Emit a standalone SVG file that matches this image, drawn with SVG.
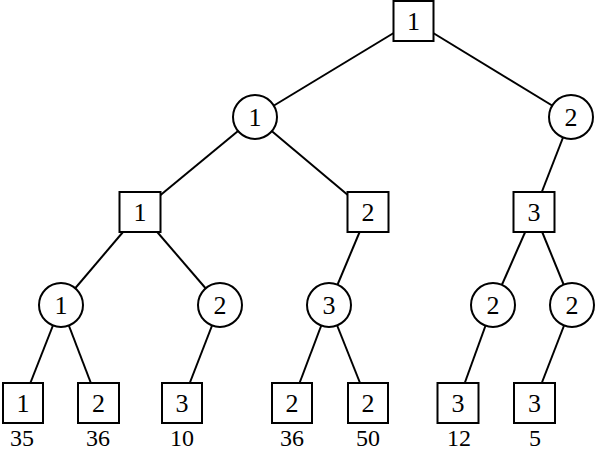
<svg xmlns="http://www.w3.org/2000/svg" width="596" height="452" viewBox="0 0 596 452">
<style>
.e line{stroke:#000;stroke-width:2}
.n rect,.n circle{fill:#fff;stroke:#000;stroke-width:2}
text{font-family:"Liberation Serif","Times New Roman",serif;font-size:26px;text-anchor:middle;fill:#000}
.v{font-size:24px}
</style>
<rect width="596" height="452" fill="#fff"/>
<g class="e" id="connectors">
<line x1="413.5" y1="21" x2="255" y2="117"/>
<line x1="413.5" y1="21" x2="571" y2="117"/>
<line x1="255" y1="117" x2="140" y2="212"/>
<line x1="255" y1="117" x2="368" y2="212"/>
<line x1="571" y1="117" x2="534" y2="212"/>
<line x1="140" y1="212" x2="61" y2="305"/>
<line x1="140" y1="212" x2="220" y2="305"/>
<line x1="368" y1="212" x2="329" y2="305"/>
<line x1="534" y1="212" x2="493" y2="305"/>
<line x1="534" y1="212" x2="572" y2="305"/>
<line x1="61" y1="305" x2="22.5" y2="403"/>
<line x1="61" y1="305" x2="98.5" y2="403"/>
<line x1="220" y1="305" x2="182" y2="403"/>
<line x1="329" y1="305" x2="292" y2="403"/>
<line x1="329" y1="305" x2="368" y2="403"/>
<line x1="493" y1="305" x2="457.5" y2="403"/>
<line x1="572" y1="305" x2="534" y2="403"/>
</g>
<g class="n" id="n0"><rect x="393.5" y="1" width="40" height="40"/><text x="413.5" y="30">1</text></g>
<g class="n" id="n1"><circle cx="255" cy="117" r="22"/><text x="255" y="126">1</text></g>
<g class="n" id="n2"><circle cx="571" cy="117" r="22"/><text x="571" y="126">2</text></g>
<g class="n" id="n3"><rect x="119.5" y="192" width="41" height="40"/><text x="140" y="221">1</text></g>
<g class="n" id="n4"><rect x="347.5" y="192" width="41" height="40"/><text x="368" y="221">2</text></g>
<g class="n" id="n5"><rect x="513.5" y="192" width="41" height="40"/><text x="534" y="221">3</text></g>
<g class="n" id="n6"><circle cx="61" cy="305" r="22"/><text x="61" y="314">1</text></g>
<g class="n" id="n7"><circle cx="220" cy="305" r="22"/><text x="220" y="314">2</text></g>
<g class="n" id="n8"><circle cx="329" cy="305" r="22"/><text x="329" y="314">3</text></g>
<g class="n" id="n9"><circle cx="493" cy="305" r="22"/><text x="493" y="314">2</text></g>
<g class="n" id="n10"><circle cx="572" cy="305" r="22"/><text x="572" y="314">2</text></g>
<g class="n" id="n11"><rect x="3" y="383" width="40" height="40"/><text x="23" y="412">1</text></g>
<g class="n" id="n12"><rect x="78" y="383" width="41" height="40"/><text x="98.5" y="412">2</text></g>
<g class="n" id="n13"><rect x="162" y="383" width="40" height="40"/><text x="182" y="412">3</text></g>
<g class="n" id="n14"><rect x="272" y="383" width="40" height="40"/><text x="292" y="412">2</text></g>
<g class="n" id="n15"><rect x="348" y="383" width="40" height="40"/><text x="368" y="412">2</text></g>
<g class="n" id="n16"><rect x="437.5" y="383" width="41" height="40"/><text x="458" y="412">3</text></g>
<g class="n" id="n17"><rect x="514" y="383" width="41" height="40"/><text x="534.5" y="412">3</text></g>
<g id="values">
<text class="v" x="22" y="446">35</text>
<text class="v" x="98" y="446">36</text>
<text class="v" x="182" y="446">10</text>
<text class="v" x="292" y="446">36</text>
<text class="v" x="368" y="446">50</text>
<text class="v" x="459" y="446">12</text>
<text class="v" x="535" y="446">5</text>
</g>
</svg>
